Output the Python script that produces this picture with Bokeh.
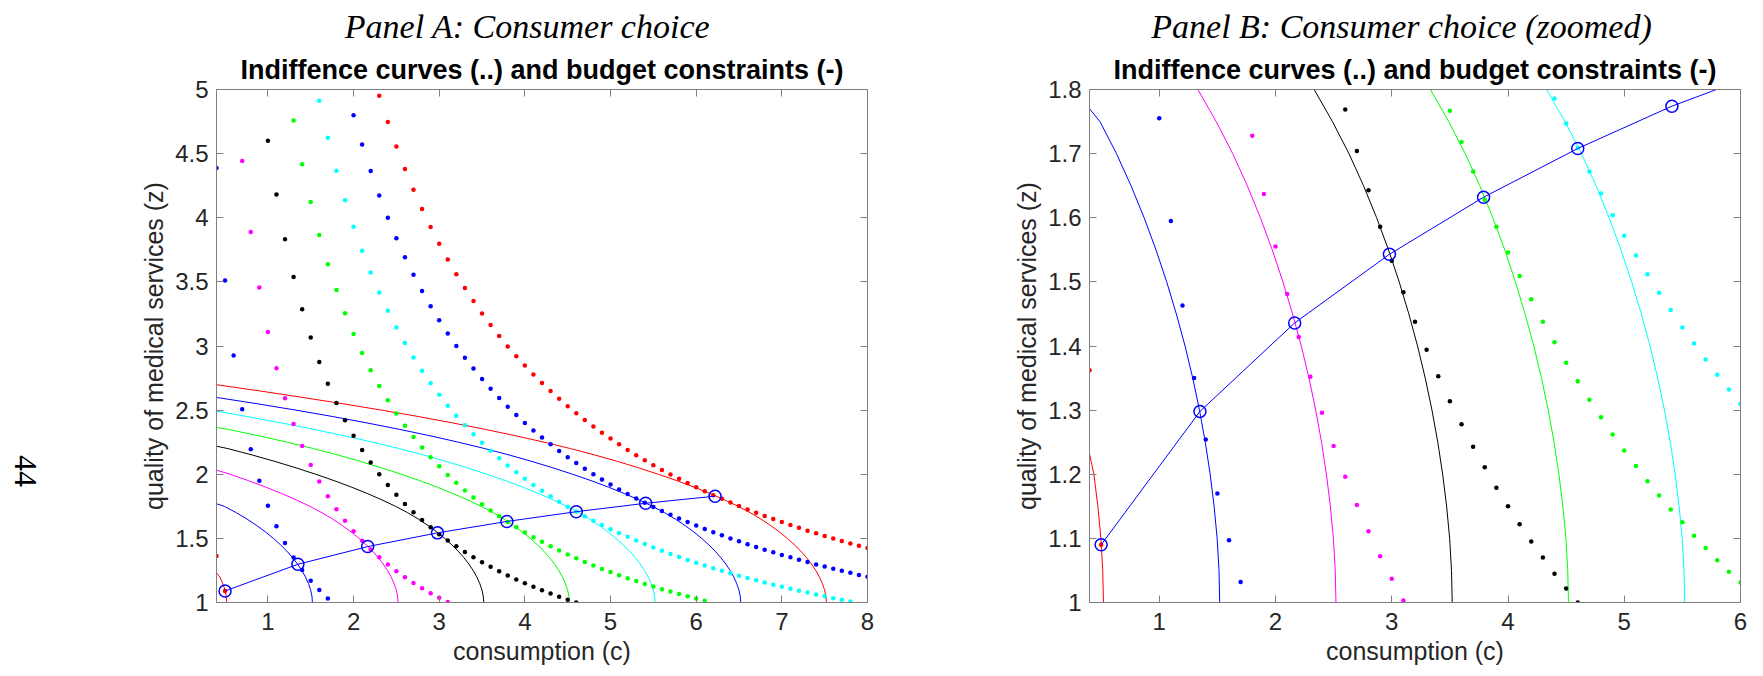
from bokeh.plotting import figure
from bokeh.models import Range1d, LinearAxis, FixedTicker
from bokeh.layouts import row, column
from bokeh.embed import file_html
from bokeh.resources import INLINE
from bokeh.core.properties import value

# ---------------- data ----------------
C_GRID = [0.4, 0.5, 0.6, 0.7, 0.8, 0.9, 1.0, 1.1, 1.2, 1.3, 1.4, 1.5, 1.6, 1.7, 1.8, 1.9,
          2.0, 2.1, 2.2, 2.3, 2.4, 2.5, 2.6, 2.7, 2.8, 2.9, 3.0, 3.1, 3.2, 3.3, 3.4, 3.5,
          3.6, 3.7, 3.8, 3.9, 4.0, 4.1, 4.2, 4.3, 4.4, 4.5, 4.6, 4.7, 4.8, 4.9, 5.0, 5.1,
          5.2, 5.3, 5.4, 5.5, 5.6, 5.7, 5.8, 5.9, 6.0, 6.1, 6.2, 6.3, 6.4, 6.5, 6.6, 6.7,
          6.8, 6.9, 7.0, 7.1, 7.2, 7.3, 7.4, 7.5, 7.6, 7.7, 7.8, 7.9, 8.0]

CURVE_COLORS = ["#ff0000", "#0000ff", "#ff00ff", "#000000", "#00ff00", "#00ffff", "#0000ff", "#ff0000"]

# indifference curves (dots): first visible c, then z values at consecutive c-grid points
IND_START = [0.4, 0.4, 0.7, 1.0, 1.3, 1.6, 2.0, 2.3]
IND_1 = [1.362, 1.090]
IND_2 = [4.388, 3.510, 2.925, 2.507, 2.194, 1.950, 1.755, 1.595, 1.463, 1.350, 1.254, 1.170,
         1.097, 1.032]
IND_3 = [4.443, 3.888, 3.456, 3.110, 2.827, 2.592, 2.392, 2.221, 2.073, 1.944, 1.829, 1.728,
         1.637, 1.555, 1.481, 1.414, 1.352, 1.296, 1.244, 1.196, 1.152, 1.111, 1.072, 1.037,
         1.003]
IND_4 = [4.600, 4.182, 3.833, 3.538, 3.286, 3.067, 2.875, 2.706, 2.556, 2.421, 2.300, 2.190,
         2.091, 2.000, 1.917, 1.840, 1.769, 1.704, 1.643, 1.586, 1.533, 1.484, 1.438, 1.394,
         1.353, 1.314, 1.278, 1.243, 1.211, 1.179, 1.150, 1.122, 1.095, 1.070, 1.045, 1.022,
         1.000]
IND_5 = [4.758, 4.418, 4.123, 3.866, 3.638, 3.436, 3.255, 3.093, 2.945, 2.811, 2.689, 2.577,
         2.474, 2.379, 2.291, 2.209, 2.133, 2.062, 1.995, 1.933, 1.874, 1.819, 1.767, 1.718,
         1.672, 1.628, 1.586, 1.546, 1.509, 1.473, 1.438, 1.406, 1.374, 1.345, 1.316, 1.289,
         1.262, 1.237, 1.213, 1.189, 1.167, 1.145, 1.125, 1.104, 1.085, 1.066, 1.048, 1.031,
         1.014]
IND_6 = [4.913, 4.624, 4.367, 4.137, 3.930, 3.743, 3.573, 3.417, 3.275, 3.144, 3.023, 2.911,
         2.807, 2.710, 2.620, 2.535, 2.456, 2.382, 2.312, 2.246, 2.183, 2.124, 2.068, 2.015,
         1.965, 1.917, 1.871, 1.828, 1.786, 1.747, 1.709, 1.672, 1.638, 1.604, 1.572, 1.541,
         1.512, 1.483, 1.456, 1.429, 1.404, 1.379, 1.355, 1.332, 1.310, 1.289, 1.268, 1.248,
         1.228, 1.209, 1.191, 1.173, 1.156, 1.139, 1.123, 1.107, 1.092, 1.077, 1.062, 1.048,
         1.034, 1.021, 1.008]
IND_7 = [4.800, 4.571, 4.364, 4.174, 4.000, 3.840, 3.692, 3.556, 3.429, 3.310, 3.200, 3.097,
         3.000, 2.909, 2.824, 2.743, 2.667, 2.595, 2.526, 2.462, 2.400, 2.341, 2.286, 2.233,
         2.182, 2.133, 2.087, 2.043, 2.000, 1.959, 1.920, 1.882, 1.846, 1.811, 1.778, 1.745,
         1.714, 1.684, 1.655, 1.627, 1.600, 1.574, 1.548, 1.524, 1.500, 1.477, 1.455, 1.433,
         1.412, 1.391, 1.371, 1.352, 1.333, 1.315, 1.297, 1.280, 1.263, 1.247, 1.231, 1.215,
         1.200]
IND_8 = [4.952, 4.746, 4.556, 4.381, 4.219, 4.068, 3.928, 3.797, 3.674, 3.559, 3.452, 3.350,
         3.254, 3.164, 3.078, 2.997, 2.921, 2.848, 2.778, 2.712, 2.649, 2.589, 2.531, 2.476,
         2.423, 2.373, 2.324, 2.278, 2.233, 2.190, 2.149, 2.109, 2.071, 2.034, 1.998, 1.964,
         1.931, 1.898, 1.867, 1.837, 1.808, 1.780, 1.752, 1.726, 1.700, 1.675, 1.651, 1.627,
         1.604, 1.582, 1.560, 1.539, 1.519, 1.499, 1.479, 1.460, 1.442, 1.424]
IND_Z = [IND_1, IND_2, IND_3, IND_4, IND_5, IND_6, IND_7, IND_8]

# budget constraints (solid): z levels shared, c read for each curve, last point at c = 0.4
Z_LEVELS = [1.00, 1.05, 1.10, 1.15, 1.20, 1.25, 1.30, 1.35, 1.40, 1.45, 1.50, 1.55, 1.60,
            1.65, 1.70, 1.75, 1.80, 1.85, 1.90, 1.95, 2.00, 2.05, 2.10, 2.15, 2.20, 2.25,
            2.30, 2.35, 2.40, 2.45, 2.50, 2.55, 2.60, 2.65]
Z_END = [1.232, 1.770, 2.032, 2.219, 2.365, 2.492, 2.599, 2.698]
BUD_1 = [0.52, 0.514, 0.498, 0.472, 0.438, 0.40]
BUD_2 = [1.52, 1.514, 1.498, 1.472, 1.438, 1.396, 1.346, 1.288, 1.222, 1.147, 1.064, 0.972,
         0.870, 0.757, 0.632, 0.490, 0.40]
BUD_3 = [2.52, 2.514, 2.498, 2.472, 2.438, 2.396, 2.346, 2.288, 2.222, 2.147, 2.064, 1.972,
         1.870, 1.757, 1.632, 1.490, 1.332, 1.160, 0.974, 0.774, 0.558, 0.40]
BUD_4 = [3.52, 3.514, 3.498, 3.472, 3.438, 3.396, 3.346, 3.288, 3.222, 3.147, 3.064, 2.972,
         2.870, 2.757, 2.632, 2.490, 2.332, 2.160, 1.974, 1.774, 1.558, 1.328, 1.082, 0.818,
         0.533, 0.40]
BUD_5 = [4.52, 4.514, 4.498, 4.472, 4.438, 4.396, 4.346, 4.288, 4.222, 4.147, 4.064, 3.972,
         3.870, 3.757, 3.632, 3.490, 3.332, 3.160, 2.974, 2.774, 2.558, 2.328, 2.082, 1.818,
         1.533, 1.225, 0.893, 0.537, 0.40]
BUD_6 = [5.52, 5.514, 5.498, 5.472, 5.438, 5.396, 5.346, 5.288, 5.222, 5.147, 5.064, 4.972,
         4.870, 4.757, 4.632, 4.490, 4.332, 4.160, 3.974, 3.774, 3.558, 3.328, 3.082, 2.818,
         2.533, 2.225, 1.893, 1.537, 1.157, 0.757, 0.40]
BUD_7 = [6.52, 6.514, 6.498, 6.472, 6.438, 6.396, 6.346, 6.288, 6.222, 6.147, 6.064, 5.972,
         5.870, 5.757, 5.632, 5.490, 5.332, 5.160, 4.974, 4.774, 4.558, 4.328, 4.082, 3.818,
         3.533, 3.225, 2.893, 2.537, 2.157, 1.757, 1.327, 0.872, 0.40]
BUD_8 = [7.52, 7.514, 7.498, 7.472, 7.438, 7.396, 7.346, 7.288, 7.222, 7.147, 7.064, 6.972,
         6.870, 6.757, 6.632, 6.490, 6.332, 6.160, 5.974, 5.774, 5.558, 5.328, 5.082, 4.818,
         4.533, 4.225, 3.893, 3.537, 3.157, 2.757, 2.327, 1.872, 1.397, 0.902, 0.40]
BUD_C = [BUD_1, BUD_2, BUD_3, BUD_4, BUD_5, BUD_6, BUD_7, BUD_8]

# optimal choices (circles) and the path joining them
PATH_C = [0.50, 1.35, 2.165, 2.98, 3.79, 4.60, 5.41, 6.22]
PATH_Z = [1.090, 1.298, 1.436, 1.543, 1.632, 1.708, 1.774, 1.829]

# axes
XTICKS_A = [1, 2, 3, 4, 5, 6, 7, 8]
YTICKS_A = [1, 1.5, 2, 2.5, 3, 3.5, 4, 4.5, 5]
YLABELS_A = ["1", "1.5", "2", "2.5", "3", "3.5", "4", "4.5", "5"]
XTICKS_B = [1, 2, 3, 4, 5, 6]
YTICKS_B = [1, 1.1, 1.2, 1.3, 1.4, 1.5, 1.6, 1.7, 1.8]
YLABELS_B = ["1", "1.1", "1.2", "1.3", "1.4", "1.5", "1.6", "1.7", "1.8"]

TITLE = "Indiffence curves (..) and budget constraints (-)"
XLABEL = "consumption (c)"
YLABEL = "quality of medical services (z)"
HEADER_A = "Panel A: Consumer choice"
HEADER_B = "Panel B: Consumer choice (zoomed)"
PAGE_NO = "44"

AX_COLOR = "#7f7f7f"
TXT_COLOR = "#262626"
SANS = "Liberation Sans"
SERIF = "Liberation Serif"

TOTAL_W = 1754
HEAD_H = 48
BODY_H = 628


def style_axis(ax, ticks, labels=None, show_labels=True, standoff=8):
    ax.ticker = FixedTicker(ticks=ticks)
    ax.axis_line_color = AX_COLOR
    ax.axis_line_width = 1
    ax.major_tick_line_color = AX_COLOR
    ax.major_tick_in = 7
    ax.major_tick_out = 0
    ax.minor_tick_line_color = None
    if show_labels:
        ax.major_label_text_font = SANS
        ax.major_label_text_font_size = "24px"
        ax.major_label_text_color = TXT_COLOR
        ax.major_label_standoff = standoff
        if labels is not None:
            ax.major_label_overrides = {t: s for t, s in zip(ticks, labels)}
        else:
            ax.major_label_overrides = {t: str(t) for t in ticks}
    else:
        ax.major_label_text_font_size = "0px"
        ax.major_label_text_color = None
        ax.major_label_standoff = 0


def make_panel(width, border_left, xr, yr, xticks, yticks, ylabels, ncurves):
    p = figure(width=width, height=BODY_H, x_range=Range1d(*xr), y_range=Range1d(*yr),
               output_backend="svg", toolbar_location=None,
               min_border_left=border_left, min_border_right=14, min_border_top=41,
               min_border_bottom=BODY_H - 41 - 513)
    p.xgrid.visible = False
    p.ygrid.visible = False
    p.outline_line_color = None

    xa = p.xaxis[0]
    ya = p.yaxis[0]
    style_axis(xa, xticks, standoff=10)
    style_axis(ya, yticks, ylabels, standoff=8)
    for ax, txt in ((xa, XLABEL), (ya, YLABEL)):
        ax.axis_label = txt
        ax.axis_label_text_font = SANS
        ax.axis_label_text_font_size = "25px"
        ax.axis_label_text_font_style = "normal"
        ax.axis_label_text_color = TXT_COLOR
        ax.axis_label_standoff = 4

    top = LinearAxis()
    style_axis(top, xticks, show_labels=False)
    p.add_layout(top, "above")
    right = LinearAxis()
    style_axis(right, yticks, show_labels=False)
    p.add_layout(right, "right")

    p.title.text = TITLE
    p.title.text_font = SANS
    p.title.text_font_style = "bold"
    p.title.text_font_size = "27px"
    p.title.text_color = "#000000"
    p.title.align = "center"
    p.title.standoff = 9

    # budget constraints
    for k in range(ncurves):
        cs = BUD_C[k]
        zs = Z_LEVELS[:len(cs) - 1] + [Z_END[k]]
        p.line(cs, zs, line_color=CURVE_COLORS[k], line_width=1)
    # indifference curves
    for k in range(ncurves):
        zs = IND_Z[k]
        i0 = C_GRID.index(IND_START[k])
        cs = C_GRID[i0:i0 + len(zs)]
        p.scatter(cs, zs, marker="circle", size=4.5, fill_color=CURVE_COLORS[k],
                  line_color=None)
    # optimal choices
    p.line(PATH_C, PATH_Z, line_color="#0000ff", line_width=1)
    p.scatter(PATH_C, PATH_Z, marker="circle", size=12, fill_color=None,
              line_color="#0000ff", line_width=1.5)
    return p


def blank(width, height):
    f = figure(width=width, height=height, x_range=Range1d(0, width),
               y_range=Range1d(0, height), x_axis_type=None, y_axis_type=None,
               output_backend="svg", toolbar_location=None, min_border=0)
    f.outline_line_color = None
    f.xgrid.visible = False
    f.ygrid.visible = False
    return f


# header strip (page y 0..48), x in page pixels
head = blank(TOTAL_W, HEAD_H)
head.text(x=[527, 1401], y=[HEAD_H - 26, HEAD_H - 26], text=[HEADER_A, HEADER_B],
          text_font=value(SERIF), text_font_style="italic", text_font_size="34px",
          text_color="#000000", text_align="center", text_baseline="alphabetic")

# left strip with the page number (page x 0..68)
side = blank(68, BODY_H)
side.text(x=[25], y=[BODY_H - (515 - HEAD_H)], text=[PAGE_NO], text_font=value(SERIF),
          text_font_size="32px", text_color="#000000", text_align="center",
          text_baseline="middle", angle=-1.5708)

pa = make_panel(813, 148, (0.4, 8), (1, 5), XTICKS_A, YTICKS_A, YLABELS_A, 8)
pb = make_panel(873, 208, (0.4, 6), (1, 1.8), XTICKS_B, YTICKS_B, YLABELS_B, 6)

layout = column(head, row(side, pa, pb))
open("out.html", "w").write(file_html(layout, INLINE))
